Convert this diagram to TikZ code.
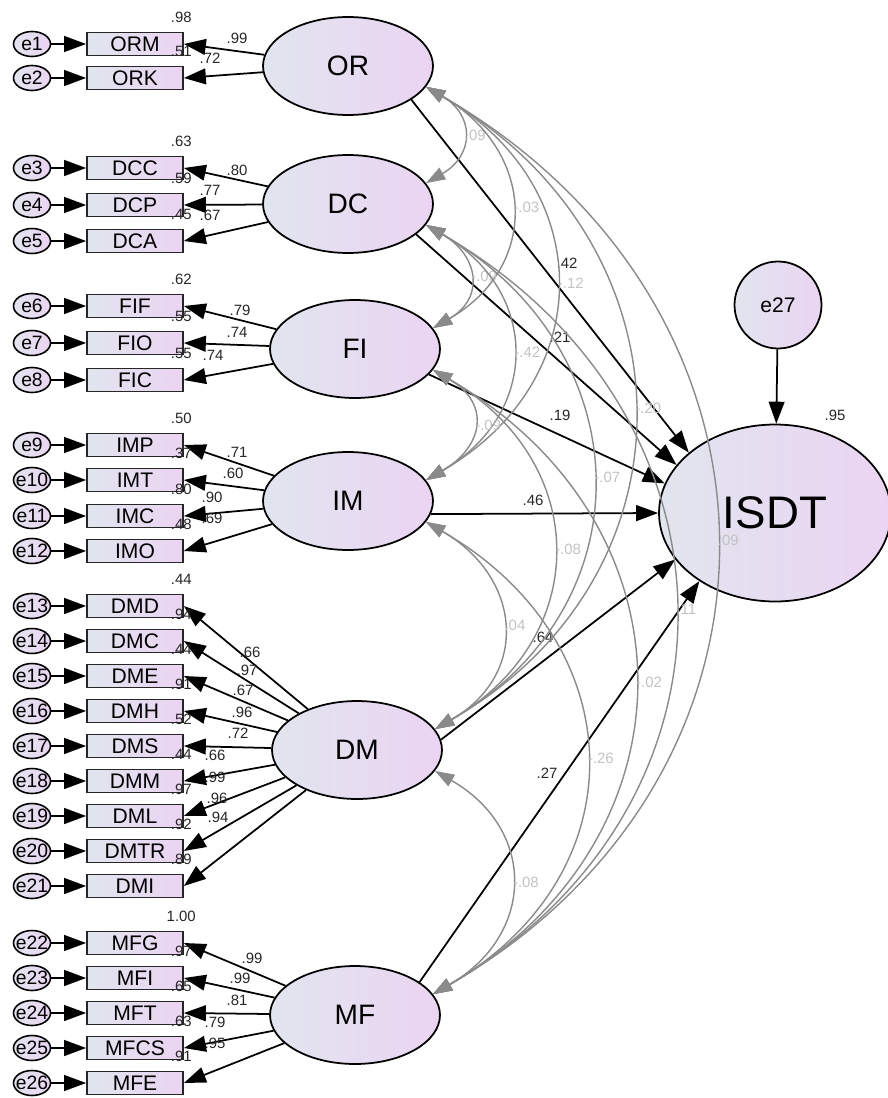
\documentclass[tikz,border=0pt]{standalone}
\usepackage{fontspec}
\setmainfont{Liberation Sans}
\usepackage{tikz}
\usetikzlibrary{shapes,arrows.meta,positioning}
\definecolor{fillA}{HTML}{E1E5EE}
\definecolor{fillB}{HTML}{EBD4F3}
\definecolor{covgray}{HTML}{8A8A8A}
\definecolor{covtext}{HTML}{C2C2C2}
\tikzset{
    lat/.style={ellipse, draw, line width=1pt, left color=fillA, right color=fillB,
        minimum width=3.4cm, minimum height=1.96cm, font=\fontsize{16}{18}\selectfont},
    big/.style={lat, minimum width=4.64cm, minimum height=3.54cm, font=\fontsize{26}{28}\selectfont},
    res/.style={circle, draw, line width=1pt, left color=fillA, right color=fillB,
        minimum size=1.74cm, inner sep=0pt, font=\fontsize{12}{13}\selectfont},
    obs/.style={rectangle, draw=black!85, line width=1pt, left color=fillA, right color=fillB,
        minimum width=1.92cm, minimum height=0.46cm, inner sep=0pt, font=\fontsize{12}{12}\selectfont},
    err/.style={ellipse, draw, line width=0.9pt, left color=fillA, right color=fillB,
        minimum width=0.74cm, minimum height=0.5cm, inner sep=0pt, font=\fontsize{11}{11}\selectfont},
    num/.style={font=\fontsize{8.5}{9}\selectfont, inner sep=1pt, text=black!85},
    cnum/.style={num, text=covtext},
    reg/.style={-{Triangle[length=12.5pt,width=9pt]}, line width=1pt},
    cov/.style={{Triangle[length=11pt,width=7.5pt]}-{Triangle[length=11pt,width=7.5pt]},
        draw=covgray, line width=0.8pt, out=-30, in=30, looseness=1.3},
}
\begin{document}
\begin{tikzpicture}[x=0.02cm, y=0.02cm]
    \useasboundingbox (0,0) rectangle (888,-1098);

    % Latent factors
    \node[lat] (OR) at (348,-66) {OR};
    \node[lat] (DC) at (348,-204) {DC};
    \node[lat] (FI) at (355,-349) {FI};
    \node[lat] (IM) at (348,-501) {IM};
    \node[lat] (DM) at (357,-750) {DM};
    \node[lat] (MF) at (355,-1015) {MF};
    \node[big] (ISDT) at (775,-513) {ISDT};
    \node[res] (e27) at (778,-305) {e27};
    \node[num] (rISDT) at (835,-415) {.95};
    \draw[reg] (e27) -- (ISDT);

    % Indicators with errors, R2 and loadings
    \foreach \lv/\ob/\ey/\en/\rr/\ld/\lx/\ly in {
        OR/ORM/44/1/.98/.99/237/38, OR/ORK/78/2/.51/.72/210/58,
        DC/DCC/168/3/.63/.80/237/170, DC/DCP/205/4/.59/.77/210/190, DC/DCA/241/5/.45/.67/210/215,
        FI/FIF/306/6/.62/.79/240/310, FI/FIO/343/7/.55/.74/237/332, FI/FIC/380/8/.55/.74/213/355,
        IM/IMP/445/9/.50/.71/237/452, IM/IMT/480/10/.37/.60/233/473,
        IM/IMC/516/11/.80/.90/212/497, IM/IMO/551/12/.48/.69/212/518,
        DM/DMD/606/13/.44/.66/250/652, DM/DMC/641/14/.94/.97/247/670, DM/DME/676/15/.44/.67/243/690,
        DM/DMH/711/16/.91/.96/242/712, DM/DMS/746/17/.52/.72/238/733, DM/DMM/781/18/.44/.66/215/755,
        DM/DML/816/19/.97/.99/215/777, DM/DMTR/851/20/.92/.96/217/798, DM/DMI/886/21/.89/.94/218/817,
        MF/MFG/943/22/1.00/.99/252/958, MF/MFI/978/23/.97/.99/240/978, MF/MFT/1013/24/.65/.81/237/1000,
        MF/MFCS/1048/25/.63/.79/215/1022, MF/MFE/1083/26/.91/.95/215/1043}{
        \node[err] (e\en) at (32,-\ey) {\makebox[0pt]{e\en}};
        \node[obs] (\ob) at (135,-\ey) {\ob};
        \node[num, above=4pt, xshift=-1.5pt] (r\ob) at (\ob.north east) {\rr};
        \draw[reg] (e\en) -- (\ob);
        \draw[reg] (\lv) -- (\ob.east);
        \node[num] (l\ob) at (\lx,-\ly) {\ld};
    }

    % Structural paths
    \foreach \s/\sa/\ta/\v/\lx/\ly in {OR/-28/145/.42/567/263, DC/-24/154/.21/560/337,
        FI/-19/165/.19/560/415, IM/-9/180/.46/533/500, DM/7/205/.64/543/637,
        MF/27/222/.27/547/773}{
        \draw[reg] (\s.\sa) -- (ISDT.\ta);
        \node[num] (b\s) at (\lx,-\ly) {\v};
    }

    % Covariances
    \foreach \a/\b/\c/\lo in {OR/DC/.09/1.5, OR/FI/-.03/1.33, OR/IM/-.12/1.3, OR/DM/-.20/1.24,
        OR/MF/.09/1.24, DC/FI/-.09/1.5, DC/IM/-.42/1.33, DC/DM/-.07/1.26, DC/MF/.11/1.25,
        FI/IM/-.09/1.55, FI/DM/-.08/1.3, FI/MF/-.02/1.27, IM/DM/.04/1.36, IM/MF/-.26/1.3,
        DM/MF/-.08/1.35}{
        \draw[cov, looseness=\lo] (\a.-15) to node[cnum, right] (c\a\b) {\c} (\b.15);
    }
\end{tikzpicture}
\end{document}
